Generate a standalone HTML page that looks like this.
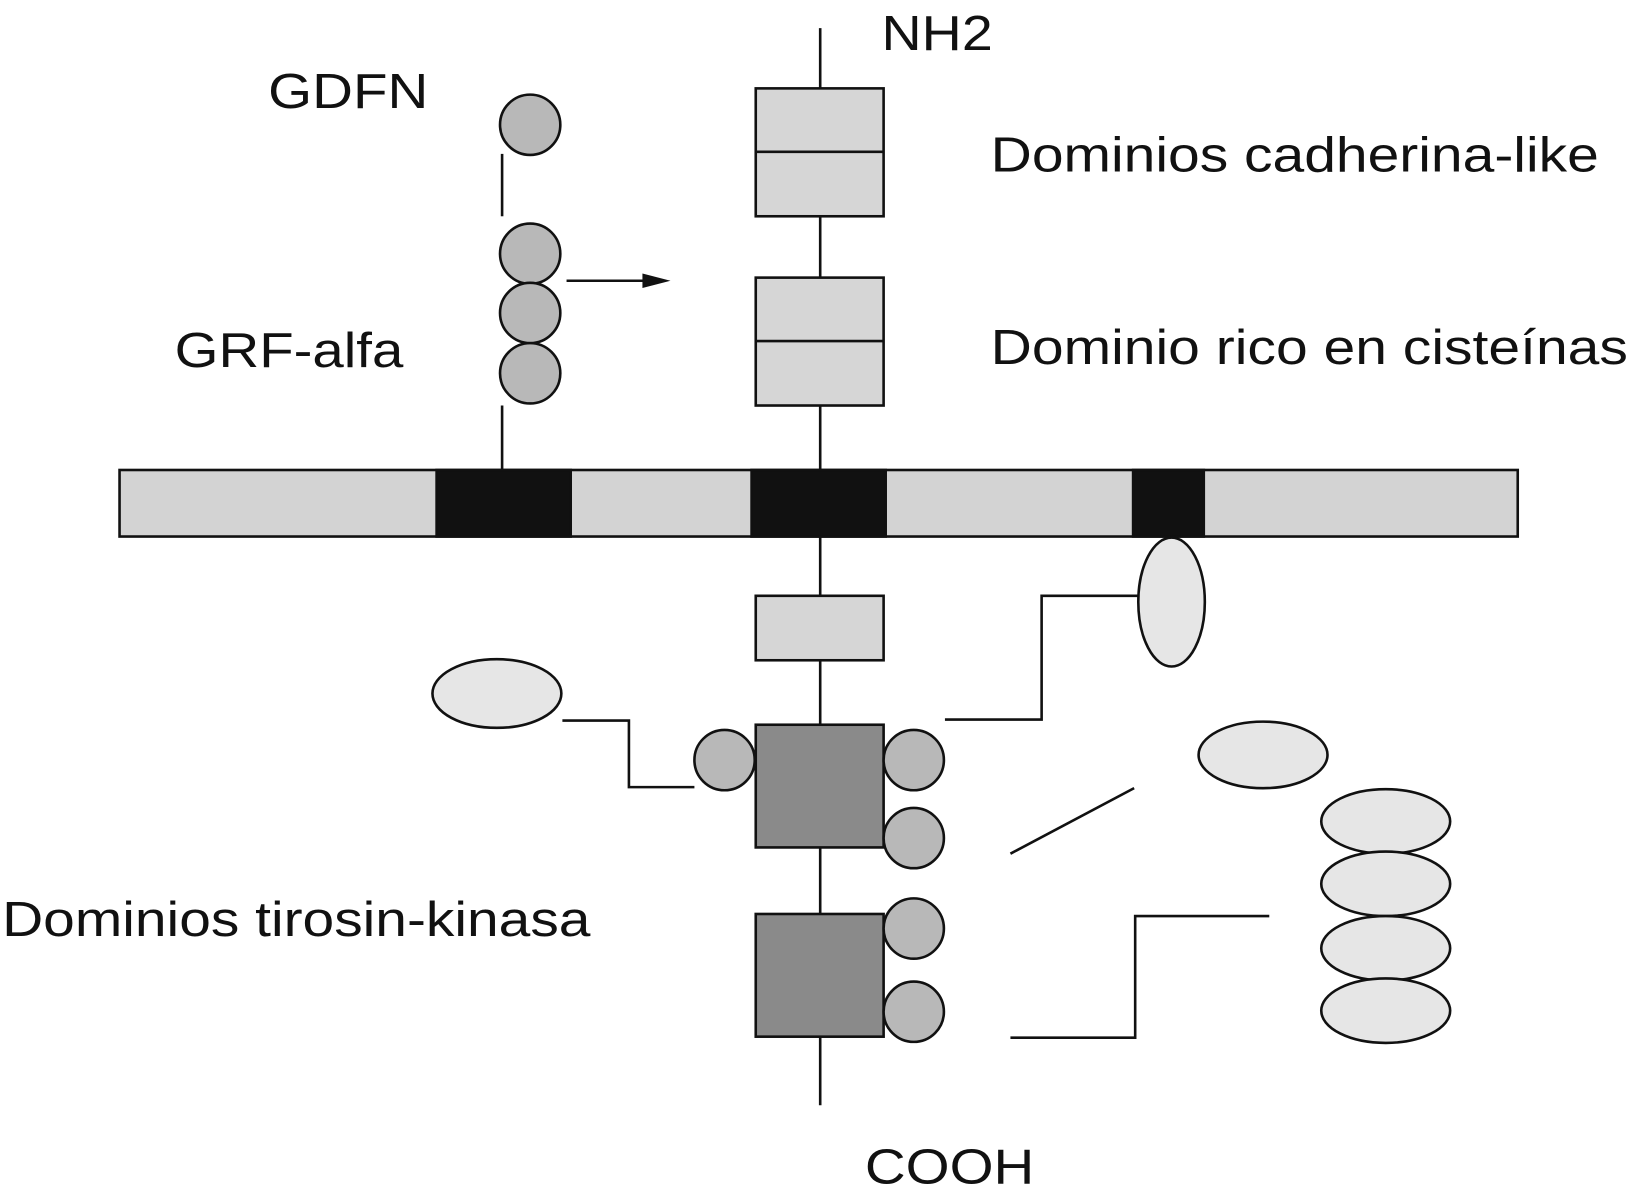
<!DOCTYPE html>
<html><head><meta charset="utf-8"><style>
html,body{margin:0;padding:0;background:#fff;}
svg{display:block;}
text{font-family:"Liberation Sans",sans-serif;font-size:47px;fill:#111;}
</style></head><body>
<svg width="1630" height="1202" viewBox="0 0 1568 1156" preserveAspectRatio="none" xmlns="http://www.w3.org/2000/svg">
<g stroke="#111" stroke-width="2.5" fill="none">
<line x1="789" y1="27" x2="789" y2="1063"/>
<line x1="483" y1="148" x2="483" y2="208"/>
<line x1="483" y1="390" x2="483" y2="452"/>
<polyline points="541,693 605,693 605,757 668,757"/>
<polyline points="909,692 1002,692 1002,573 1095,573"/>
<line x1="972" y1="821" x2="1091" y2="758"/>
<polyline points="972,998 1092,998 1092,881 1221,881"/>
<line x1="545" y1="270" x2="630" y2="270"/>
</g>
<path d="M645,270 L618,263 L618,277z" fill="#111"/>
<g stroke="#111" stroke-width="2.5">
<rect x="727" y="85" width="123" height="123" fill="#d6d6d6"/>
<line x1="727" y1="146" x2="850" y2="146"/>
<rect x="727" y="267" width="123" height="123" fill="#d6d6d6"/>
<line x1="727" y1="328" x2="850" y2="328"/>
<rect x="115" y="452" width="1345" height="64" fill="#d3d3d3"/>
<rect x="420" y="452" width="129" height="64" fill="#111"/>
<rect x="723" y="452" width="129" height="64" fill="#111"/>
<rect x="1090" y="452" width="68" height="64" fill="#111"/>
<rect x="727" y="573" width="123" height="62" fill="#d6d6d6"/>
<rect x="727" y="697" width="123" height="118" fill="#8a8a8a"/>
<rect x="727" y="879" width="123" height="118" fill="#8a8a8a"/>
<g fill="#b8b8b8">
<circle cx="510" cy="120" r="29"/>
<circle cx="510" cy="244" r="29"/>
<circle cx="510" cy="301" r="29"/>
<circle cx="510" cy="359" r="29"/>
<circle cx="697" cy="731" r="29"/>
<circle cx="879" cy="731" r="29"/>
<circle cx="879" cy="806" r="29"/>
<circle cx="879" cy="893" r="29"/>
<circle cx="879" cy="973" r="29"/>
</g>
<g fill="#e6e6e6">
<ellipse cx="478" cy="667" rx="62" ry="33"/>
<ellipse cx="1127" cy="579" rx="32" ry="62"/>
<ellipse cx="1215" cy="726" rx="62" ry="32"/>
<ellipse cx="1333" cy="790" rx="62" ry="31"/>
<ellipse cx="1333" cy="850" rx="62" ry="31"/>
<ellipse cx="1333" cy="912" rx="62" ry="31"/>
<ellipse cx="1333" cy="972" rx="62" ry="31"/>
</g>
</g>
<text x="848" y="48" textLength="107" lengthAdjust="spacingAndGlyphs">NH2</text>
<text x="258" y="104" textLength="154" lengthAdjust="spacingAndGlyphs">GDFN</text>
<text x="953" y="165" textLength="585" lengthAdjust="spacingAndGlyphs">Dominios cadherina-like</text>
<text x="168" y="353" textLength="220" lengthAdjust="spacingAndGlyphs">GRF-alfa</text>
<text x="953" y="350" textLength="613" lengthAdjust="spacingAndGlyphs">Dominio rico en cisteínas</text>
<text x="2" y="900" textLength="566" lengthAdjust="spacingAndGlyphs">Dominios tirosin-kinasa</text>
<text x="832" y="1138" textLength="163" lengthAdjust="spacingAndGlyphs">COOH</text>
</svg>
</body></html>
